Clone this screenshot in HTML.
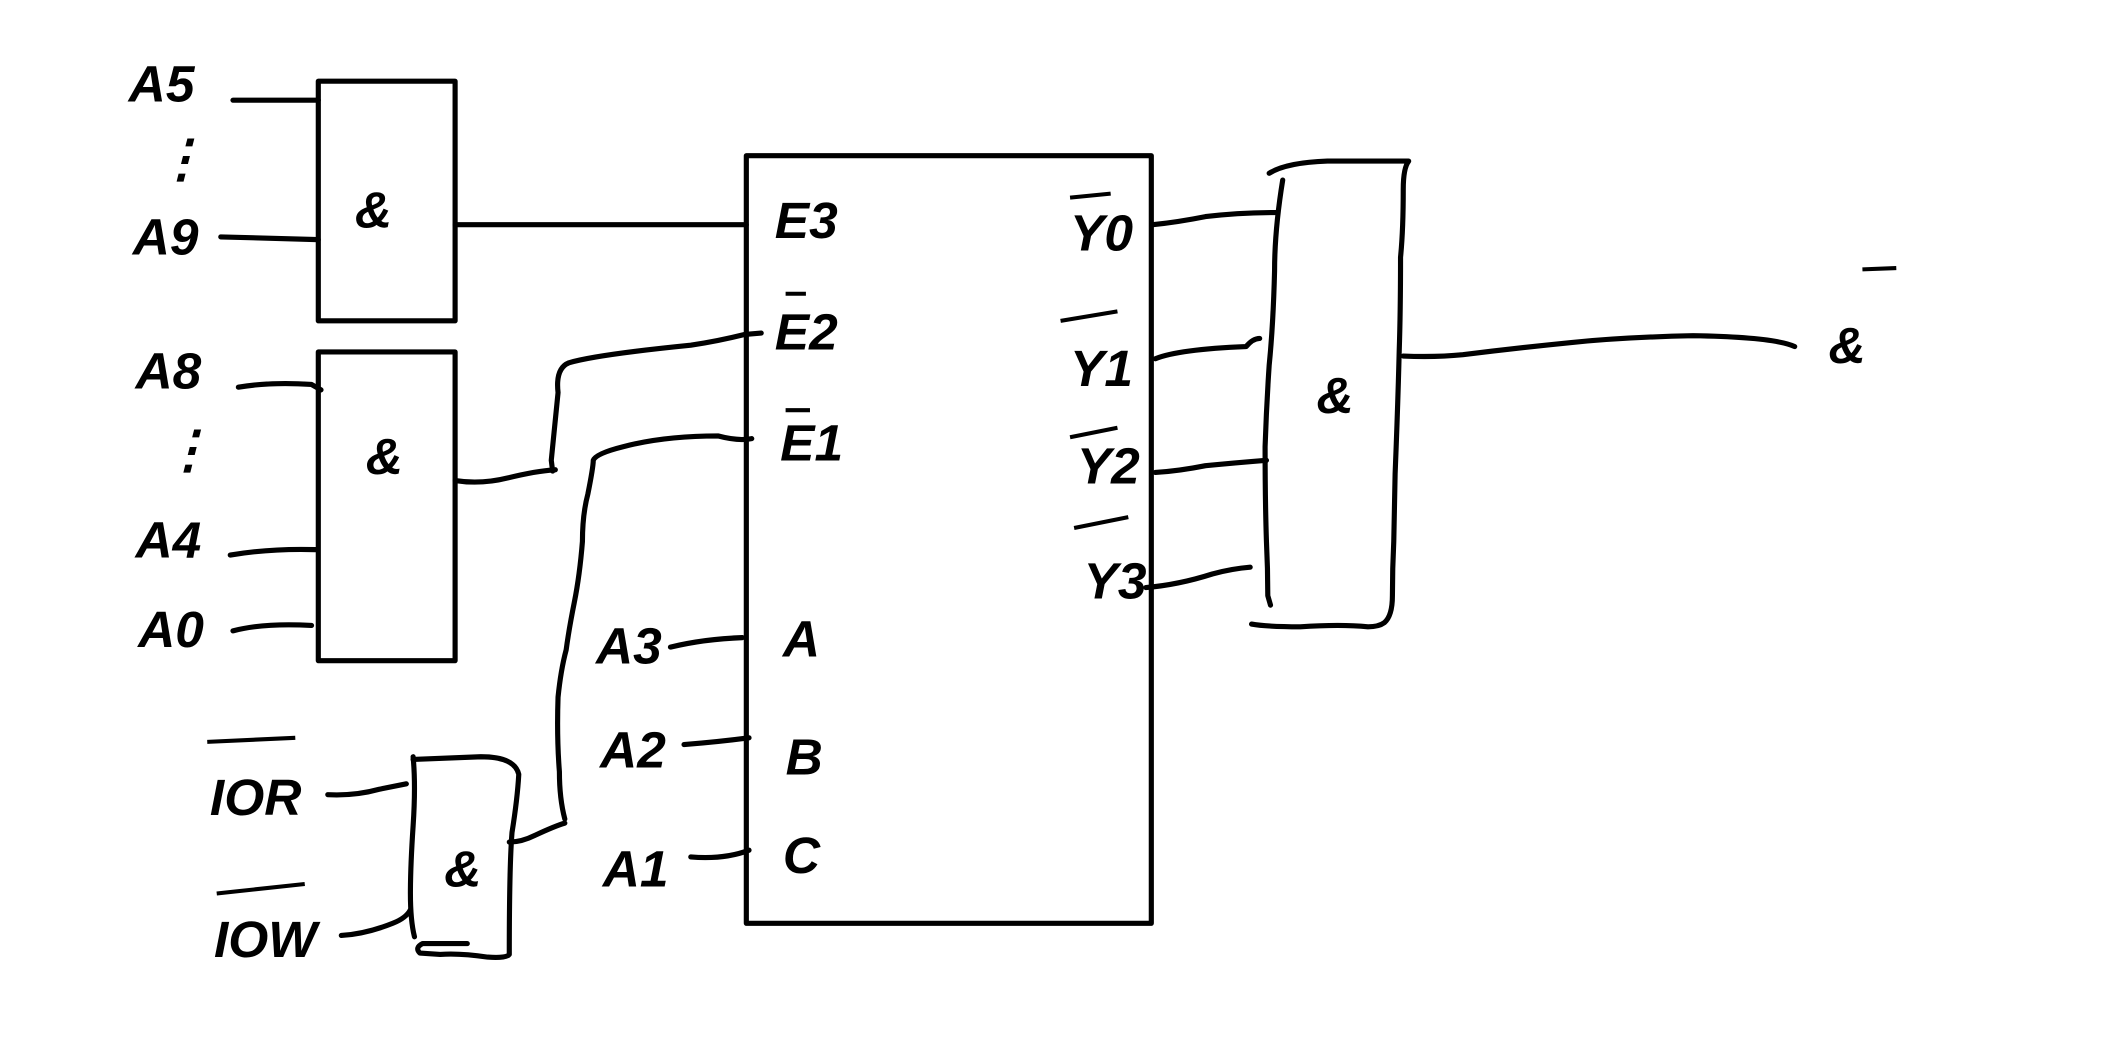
<!DOCTYPE html>
<html><head><meta charset="utf-8"><style>
html,body{margin:0;padding:0;background:#fff;}
svg{display:block}
text{font-family:"Liberation Sans",sans-serif;font-size:38px;fill:#000;}
</style></head><body>
<svg width="2113" height="1060" viewBox="0 0 1560 783" preserveAspectRatio="none" xmlns="http://www.w3.org/2000/svg">
<g fill="none" stroke="#000" stroke-width="3.8" stroke-linecap="round" stroke-linejoin="round">
<rect x="235" y="60" width="101" height="177"/>
<line x1="172" y1="74" x2="235" y2="74"/>
<line x1="163" y1="175" x2="235" y2="177"/>
<line x1="336" y1="166" x2="551" y2="166"/>
<rect x="235" y="260" width="101" height="228"/>
<path d="M176 286 Q200 282 230 284 L237 288"/>
<path d="M170 410 Q200 405 233 406"/>
<path d="M172 466 Q195 460 230 462"/>
<path d="M336 355 Q355 358 375 353 Q395 348 410 347"/>
<rect x="551" y="115" width="299" height="567"/>
<path d="M408 348 L407 340 L412 290 Q410 272 420 268 Q440 262 510 255 Q530 252 550 247 L562 246"/>
<path d="M417 605 Q413 590 413 570 Q411 545 412 515 Q414 495 418 480 Q420 465 424 445 Q428 425 430 400 Q430 380 434 365 Q438 345 438 340 Q440 335 460 330 Q490 322 530 322 Q545 326 555 324"/>
<path d="M495 478 Q520 472 548 471"/>
<path d="M505 550 Q530 548 553 545"/>
<path d="M510 633 Q535 635 553 628"/>
<path d="M305 561 Q330 560 355 559 Q380 559 383 572 Q382 590 378 615 Q376 640 376 705 Q374 708 360 707 Q340 704 325 705 L310 704 Q306 700 312 697 L345 697"/>
<path d="M305 559 Q307 580 305 610 Q303 640 303 660 Q303 680 306 692"/>
<path d="M242 587 Q262 588 280 583 L300 579"/>
<path d="M252 691 Q270 690 290 682 Q300 678 303 672"/>
<path d="M376 622 Q385 622 395 617 Q410 610 417 608"/>
<path d="M937 128 Q950 120 980 119 L1040 119 Q1036 124 1036 140 Q1036 170 1034 190 Q1034 230 1033 260 Q1032 300 1030 350 L1029 400 Q1028 420 1028 440 Q1028 455 1022 460 Q1018 463 1010 463 Q990 461 960 463 Q935 463 924 461"/>
<path d="M947 133 Q941 170 941 200 Q940 240 937 270 Q935 300 934 330 Q934 370 935 400 Q936 420 936 440 L938 447"/>
<path d="M851 166 Q870 164 890 160 Q915 157 943 157"/>
<path d="M853 265 Q870 258 920 256 Q925 250 930 250"/>
<path d="M853 349 Q870 348 890 344 Q910 342 935 340"/>
<path d="M846 434 Q870 432 895 424 Q910 420 923 419"/>
<path d="M1036 263 Q1060 264 1080 262 Q1120 257 1160 253 Q1200 249 1250 248 Q1310 249 1325 256"/>
</g>
<g font-style="italic" font-weight="bold">
<text x="95" y="75">A5</text>
<text x="115" y="130" font-size="24">⋮</text>
<text x="98" y="188">A9</text>
<text x="100" y="287">A8</text>
<text x="120" y="345" font-size="24">⋮</text>
<text x="100" y="412">A4</text>
<text x="102" y="478">A0</text>
<text x="262" y="168">&amp;</text>
<text x="270" y="350">&amp;</text>
<text x="328" y="655">&amp;</text>
<text x="972" y="305">&amp;</text>
<text x="1350" y="268">&amp;</text>
<line x1="1375" y1="199" x2="1400" y2="198" stroke="#000" stroke-width="3"/>
<text x="155" y="602">IOR</text>
<line x1="153" y1="548" x2="218" y2="545" stroke="#000" stroke-width="3"/>
<line x1="160" y1="660" x2="225" y2="653" stroke="#000" stroke-width="3"/>
<text x="158" y="707">IOW</text>
<text x="440" y="490">A3</text>
<text x="443" y="567">A2</text>
<text x="445" y="655">A1</text>
<text x="572" y="176">E3</text>
<text x="572" y="258">E2</text>
<text x="576" y="340">E1</text>
<line x1="580" y1="217" x2="595" y2="217" stroke="#000" stroke-width="3"/>
<line x1="580" y1="303" x2="598" y2="303" stroke="#000" stroke-width="3"/>
<text x="578" y="485">A</text>
<text x="580" y="572">B</text>
<text x="578" y="645">C</text>
<text x="790" y="185">Y0</text>
<text x="790" y="285">Y1</text>
<text x="795" y="357">Y2</text>
<text x="800" y="442">Y3</text>
<g stroke="#000" stroke-width="3"><line x1="790" y1="146" x2="820" y2="143"/><line x1="783" y1="237" x2="825" y2="230"/><line x1="790" y1="323" x2="825" y2="316"/><line x1="793" y1="390" x2="833" y2="382"/></g>
</g>
</svg>
</body></html>
